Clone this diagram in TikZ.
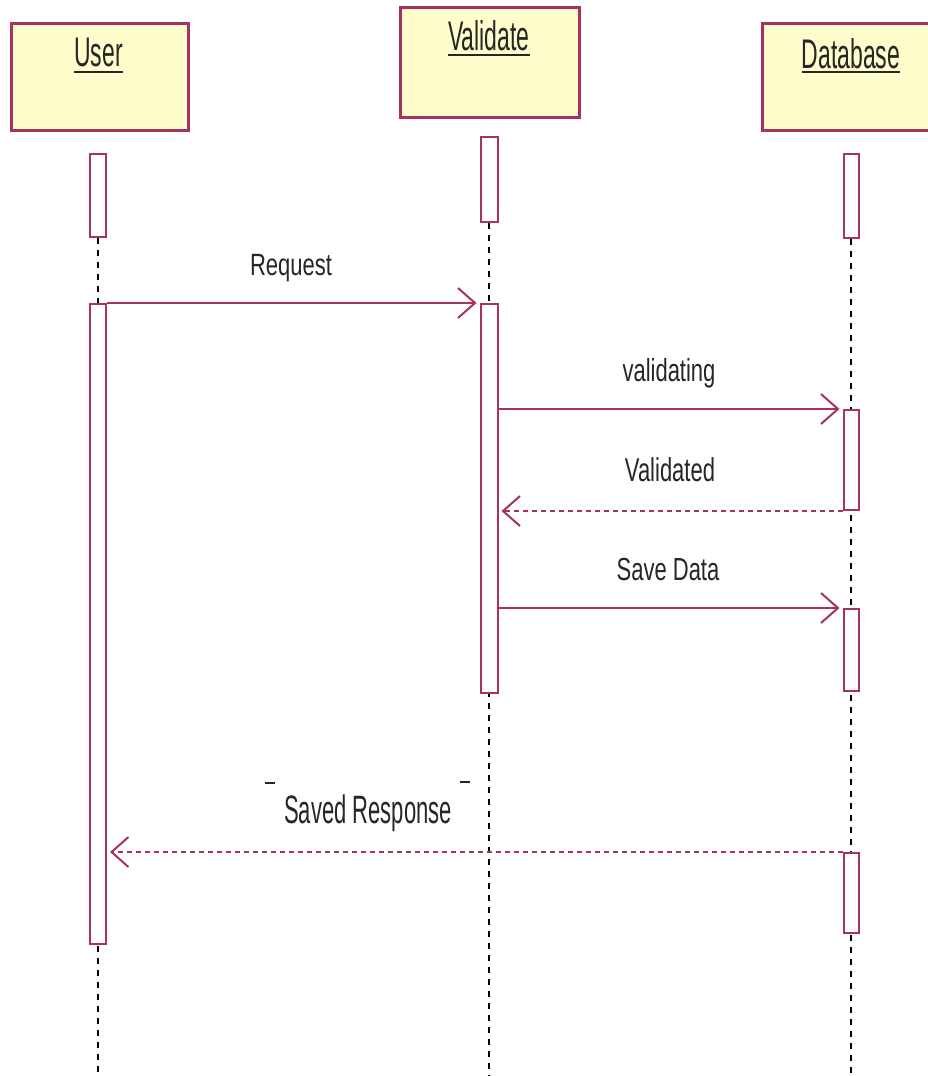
\documentclass[tikz,border=0pt]{standalone}
\usepackage{graphicx}
\usepackage{fontspec}
\setmainfont{Liberation Sans}
\usetikzlibrary{arrows.meta}
\definecolor{umlred}{HTML}{A8325E}
\definecolor{umlfill}{HTML}{FFFDCC}
\definecolor{txt}{HTML}{262626}
\newcommand\vstretch[2]{\scalebox{1}[#1]{#2}}
\begin{document}
\begin{tikzpicture}[x=1pt,y=-1pt,
 head/.style={draw=umlred,line width=2.5pt,fill=umlfill,inner sep=0,anchor=north west},
 act/.style={draw=umlred,line width=2pt,fill=white,minimum width=16pt,inner sep=0,anchor=north},
 life/.style={black,line width=1.5pt,dash pattern=on 6pt off 6pt},
 msg/.style={umlred,line width=2pt,-{Straight Barb[length=17pt,width=30pt,line width=2pt]},shorten >=3pt},
 ret/.style={msg,dash pattern=on 5pt off 4pt},
 htext/.style={font=\fontsize{23}{27}\selectfont,text=txt,inner sep=0,anchor=base},
 lbl/.style={font=\fontsize{22}{26}\selectfont,text=txt,inner sep=0,anchor=base},
 uline/.style={txt,line width=2.5pt},
 tick/.style={txt,line width=2.5pt}
]
\useasboundingbox (0,0) rectangle (928,1076);
\clip (0,0) rectangle (928,1076);

% headers
\node[head,minimum width=177pt,minimum height=107pt] (uH) at (10,22) {};
\node[head,minimum width=179pt,minimum height=110pt] (vH) at (399,6) {};
\node[head,minimum width=179pt,minimum height=107pt] (dH) at (761,22) {};
\node[htext] (uT) at (98.5,66) {\vstretch{1.8}{User}};
\node[htext] (vT) at (489,50) {\vstretch{1.8}{Validate}};
\node[htext] (dT) at (851,68) {\vstretch{1.8}{Database}};
\draw[uline] ([yshift=-6pt]uT.base west) -- ([yshift=-6pt]uT.base east);
\draw[uline] ([yshift=-5pt]vT.base west) -- ([yshift=-5pt]vT.base east);
\draw[uline] ([yshift=-4pt]dT.base west) -- ([yshift=-4pt]dT.base east);

% lifeline ends
\coordinate (uEnd) at (98,1076);
\coordinate (vEnd) at (489,1076);
\coordinate (dEnd) at (851,1076);

% first activations
\node[act,minimum height=83pt] (uA1) at (98,153) {};
\node[act,minimum height=85pt,minimum width=17pt] (vA1) at (489,136) {};
\node[act,minimum height=84pt,minimum width=15pt] (dA1) at (851,153) {};

% lifelines
\draw[life] (uA1.south) -- (uEnd);
\draw[life] (vA1.south) -- (vEnd);
\draw[life] (dA1.south) -- (dEnd);

% activations
\node[act,minimum height=640pt] (uA2) at (98,303) {};
\node[act,minimum height=389pt,minimum width=17pt] (vA2) at (489,303) {};
\node[act,minimum height=100pt,minimum width=15pt] (dA2) at (851,409) {};
\node[act,minimum height=82pt,minimum width=15pt] (dA3) at (851,608) {};
\node[act,minimum height=80pt,minimum width=15pt] (dA4) at (851,852) {};

% messages
\draw[msg] (uA2.north east) -- (vA2.north west);
\draw[msg] (vA2.east |- dA2.north) -- (dA2.north west);
\draw[ret] (dA2.south west) -- (vA2.east |- dA2.south);
\draw[msg] (vA2.east |- dA3.north) -- (dA3.north west);
\draw[ret] (dA4.north west) -- (uA2.east |- dA4.north);

% labels
\node[lbl] (l1) at (291,275) {\vstretch{1.4}{Request}};
\node[lbl] (l2) at (669,381) {\vstretch{1.45}{validating}};
\node[lbl] (l3) at (670,481) {\vstretch{1.5}{Validated}};
\node[lbl] (l4) at (668,580) {\vstretch{1.45}{Save Data}};
\node[lbl] (l5) at (368,823) {\vstretch{1.8}{Saved Response}};
\draw[tick] (265,783) -- (275,783);
\draw[tick] (460,782) -- (470,782);
\end{tikzpicture}
\end{document}
